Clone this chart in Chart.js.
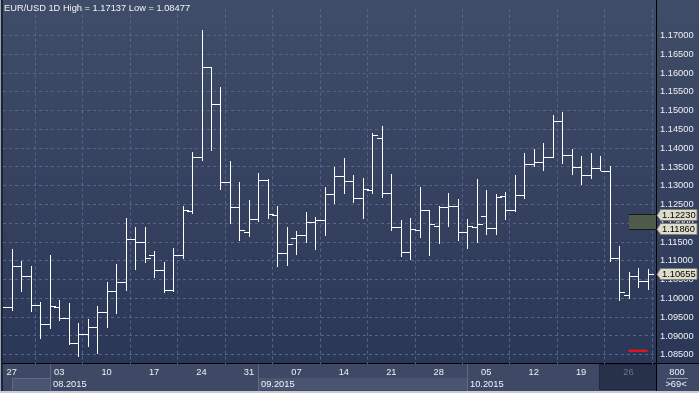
<!DOCTYPE html>
<html><head><meta charset="utf-8">
<script src="https://cdn.jsdelivr.net/npm/chart.js@4/dist/chart.umd.min.js"></script>
<style>html,body{margin:0;padding:0;background:#c8ccd4;overflow:hidden}#wrap{width:699px;height:393px;position:relative}</style>
</head><body><div id="wrap"><canvas id="c" width="699" height="393"></canvas></div>
<script>
// ---- data ----
const dates = ['2015-07-24',
 '2015-07-27','2015-07-28','2015-07-29','2015-07-30','2015-07-31',
 '2015-08-03','2015-08-04','2015-08-05','2015-08-06','2015-08-07',
 '2015-08-10','2015-08-11','2015-08-12','2015-08-13','2015-08-14',
 '2015-08-17','2015-08-18','2015-08-19','2015-08-20','2015-08-21',
 '2015-08-24','2015-08-25','2015-08-26','2015-08-27','2015-08-28',
 '2015-08-31','2015-09-01','2015-09-02','2015-09-03','2015-09-04',
 '2015-09-07','2015-09-08','2015-09-09','2015-09-10','2015-09-11',
 '2015-09-14','2015-09-15','2015-09-16','2015-09-17','2015-09-18',
 '2015-09-21','2015-09-22','2015-09-23','2015-09-24','2015-09-25',
 '2015-09-28','2015-09-29','2015-09-30','2015-10-01','2015-10-02',
 '2015-10-05','2015-10-06','2015-10-07','2015-10-08','2015-10-09',
 '2015-10-12','2015-10-13','2015-10-14','2015-10-15','2015-10-16',
 '2015-10-19','2015-10-20','2015-10-21','2015-10-22','2015-10-23',
 '2015-10-26','2015-10-27','2015-10-28'];
const openV = [1.09800,
 1.09760,1.10871,1.10591,1.09823,1.09326,
 1.09771,1.09483,1.08802,1.09064,1.09247,
 1.09648,1.10190,1.10426,1.11578,1.11508,
 1.11159,1.10769,1.10232,1.11159,1.12338,
 1.13752,1.16162,1.15167,1.13097,1.12443,
 1.11762,1.12102,1.13150,1.12233,1.11212,
 1.11604,1.11683,1.12024,1.12076,1.12791,
 1.13262,1.13124,1.12678,1.12888,1.14276,
 1.12809,1.11893,1.11238,1.11822,1.12346,
 1.11919,1.12443,1.12469,1.11762,1.11893,
 1.12181,1.11866,1.12731,1.12364,1.12757,
 1.13569,1.13621,1.13778,1.14721,1.13805,
 1.13490,1.13281,1.13464,1.13385,1.11088,
 1.10085,1.10591,1.10452];
const highV = [1.09900,
 1.11306,1.11002,1.10853,1.09910,1.11159,
 1.09962,1.09884,1.09352,1.09457,1.09797,
 1.10434,1.10905,1.12136,1.11900,1.11900,
 1.11272,1.10958,1.11350,1.12450,1.13891,
 1.17137,1.16162,1.15620,1.13655,1.13105,
 1.12626,1.13341,1.13184,1.12450,1.11900,
 1.11796,1.12293,1.12162,1.12974,1.13498,
 1.13734,1.13289,1.13210,1.14415,1.14598,
 1.13323,1.12084,1.12136,1.12974,1.12346,
 1.12469,1.12817,1.12634,1.12110,1.13184,
 1.12896,1.12791,1.12843,1.13289,1.13883,
 1.13970,1.14127,1.14886,1.14965,1.13970,
 1.13794,1.13883,1.13794,1.13524,1.11403,
 1.10696,1.10800,1.10774];
const lowV = [1.09550,
 1.09700,1.10198,1.09656,1.08933,1.09210,
 1.09430,1.08784,1.08477,1.08731,1.08556,
 1.09237,1.09603,1.10232,1.10782,1.10965,
 1.10572,1.10180,1.10198,1.11070,1.12275,
 1.13689,1.13951,1.12904,1.12013,1.11542,
 1.11673,1.12065,1.12144,1.10853,1.10879,
 1.11193,1.11508,1.11306,1.11699,1.12537,
 1.12817,1.12555,1.12136,1.12817,1.12694,
 1.11814,1.11133,1.11044,1.11646,1.11149,
 1.11463,1.11934,1.11568,1.11332,1.11500,
 1.11725,1.11725,1.12118,1.12327,1.12668,
 1.13532,1.13427,1.13778,1.13611,1.13323,
 1.13035,1.13218,1.13427,1.10992,1.09970,
 1.10022,1.10311,1.10258];
const closeV = [1.09760,
 1.10871,1.10591,1.09823,1.09326,1.09797,
 1.09483,1.08802,1.09064,1.09247,1.09648,
 1.10190,1.10426,1.11578,1.11508,1.11081,
 1.10769,1.10232,1.11159,1.12364,1.13752,
 1.16162,1.15167,1.13097,1.12443,1.11814,
 1.12102,1.13150,1.12259,1.11219,1.11447,
 1.11683,1.12024,1.12076,1.12791,1.13262,
 1.13124,1.12678,1.12914,1.14362,1.12809,
 1.11893,1.11238,1.11848,1.12346,1.11971,
 1.12443,1.12469,1.11762,1.11919,1.11971,
 1.11866,1.12705,1.12364,1.12757,1.13569,
 1.13621,1.13778,1.14721,1.13805,1.13490,
 1.13281,1.13464,1.13385,1.11088,1.10164,
 1.10591,1.10452,1.10655];
const yTicks = [1.085,1.090,1.095,1.100,1.105,1.110,1.115,1.120,1.125,1.130,1.135,1.140,1.145,1.150,1.155,1.160,1.165,1.170];
const xTickIdx = [1,6,11,16,21,26,31,36,41,46,51,56,61,66];
const xTickLabels = ['27','03','10','17','24','31','07','14','21','28','05','12','19','26'];
const monthDividers = [5,27,49];
const monthLabels = ['08.2015','09.2015','10.2015'];
const titleText = 'EUR/USD 1D High = 1.17137 Low = 1.08477';
const priceTags = [1.12230, 1.11860, 1.10655];
const bandLevels = [1.11860, 1.12230];
const bandFromIdx = 66;
const redLevel = 1.0861;
const redFromIdx = 66, redToIdx = 68;
const futureFromIdx = 62.84;
const cornerTop = '800', cornerBottom = '>69<';

const FONT = 'Liberation Sans, Arial, sans-serif';
const FS = 9.3;

const plug = {
  id: 'ohlcPlug',
  beforeDraw(chart) {
    const {ctx, chartArea: a, scales: {x}} = chart;
    const W = chart.width, H = chart.height;
    ctx.save();
    const g = ctx.createLinearGradient(0, 0, 0, a.bottom);
    g.addColorStop(0, '#404d68');
    g.addColorStop(1, '#2b3757');
    ctx.fillStyle = g; ctx.fillRect(0, 0, W, a.bottom);
    // bottom strip
    ctx.fillStyle = '#3e4a65'; ctx.fillRect(0, a.bottom, W, H - a.bottom);
    // alternating month boxes (lower row)
    const xs = [x.getPixelForValue(1)].concat(monthDividers.map(v => Math.round(x.getPixelForValue(v))));
    ctx.fillStyle = '#4a5671';
    [[Math.round(xs[0]), xs[1]], [xs[2], xs[3]]].forEach(([l, r]) => ctx.fillRect(l, 378, r - l, 12));
    ctx.strokeStyle = '#5e6a84'; ctx.lineWidth = 1;
    ctx.beginPath(); ctx.moveTo(Math.round(xs[0]) + 0.5, 378); ctx.lineTo(Math.round(xs[0]) + 0.5, 390); ctx.moveTo(Math.round(xs[0]), 378.5); ctx.lineTo(xs[1], 378.5); ctx.stroke();
    xs.slice(1).forEach(p => { ctx.beginPath(); ctx.moveTo(p + 0.5, a.bottom); ctx.lineTo(p + 0.5, 391); ctx.stroke(); });
    // dark future region
    const fx = Math.round(x.getPixelForValue(futureFromIdx));
    ctx.fillStyle = '#27314a'; ctx.fillRect(fx, a.bottom + 1, a.right - fx, 390 - a.bottom - 1);
    ctx.strokeStyle = '#1f283c'; ctx.strokeRect(fx + 0.5, a.bottom + 0.5, a.right - fx - 1, 390 - a.bottom - 1);
    // frame lines
    ctx.fillStyle = '#000';
    ctx.fillRect(0, a.bottom - 1, W, 1);
    ctx.fillRect(a.right - 1, 0, 1, 391);
    ctx.fillStyle = '#c9cdd5'; ctx.fillRect(0, 391, W, 2);
    ctx.fillStyle = '#9aa3b5'; ctx.fillRect(0, 0, 1, 391);
    ctx.fillStyle = '#1d2434'; ctx.fillRect(1, 0, 2, 391);
    ctx.restore();
  },
  beforeDatasetsDraw(chart) {
    const {ctx, chartArea: a, scales: {x, y}} = chart;
    const l = Math.round(x.getPixelForValue(bandFromIdx));
    const t = Math.round(y.getPixelForValue(bandLevels[1]));
    const b = Math.round(y.getPixelForValue(bandLevels[0]));
    ctx.save();
    ctx.fillStyle = '#4f5a4d'; ctx.fillRect(l, t, a.right - 1 - l, b - t);
    ctx.fillStyle = '#161b16'; ctx.fillRect(l, t - 1, a.right - 1 - l, 1); ctx.fillRect(l, b, a.right - 1 - l, 1);
    ctx.restore();
  },
  afterDatasetsDraw(chart) {
    const {ctx, chartArea: a, scales: {x, y}} = chart;
    ctx.save();
    ctx.beginPath(); ctx.rect(a.left, a.top, a.right - a.left - 1, a.bottom - a.top - 1); ctx.clip();
    ctx.fillStyle = '#ffffff';
    const half = 5;
    for (let i = 0; i < dates.length; i++) {
      const px = Math.round(x.getPixelForValue(i));
      const yh = Math.round(y.getPixelForValue(highV[i]));
      const yl = Math.round(y.getPixelForValue(lowV[i]));
      const yo = Math.round(y.getPixelForValue(openV[i]));
      const yc = Math.round(y.getPixelForValue(closeV[i]));
      ctx.fillRect(px, yh, 1, yl - yh + 1);
      ctx.fillRect(px - half, yo, half, 1);
      ctx.fillRect(px + 1, yc, half, 1);
    }
    ctx.restore();
  },
  afterDraw(chart) {
    const {ctx, chartArea: a, scales: {x, y}} = chart;
    ctx.save();
    ctx.font = FS + 'px ' + FONT;
    ctx.textBaseline = 'middle';
    ctx.fillStyle = '#f2f4f8';
    ctx.textAlign = 'left';
    ctx.fillText(titleText, 4, 8.5);
    // month labels
    monthDividers.forEach((v, i) => {
      ctx.fillText(monthLabels[i], Math.round(x.getPixelForValue(v)) + 3, 384);
    });
    // corner box
    ctx.textAlign = 'center';
    ctx.fillText(cornerTop, 677, 372.5);
    ctx.fillText(cornerBottom, 676, 384.5);
    ctx.fillStyle = '#8c96aa'; ctx.fillRect(667, 378, 21, 1);
    // price tags
    priceTags.forEach(v => {
      const py = Math.round(y.getPixelForValue(v));
      const l = a.right + 3, r = a.right + 40;
      ctx.beginPath();
      ctx.moveTo(a.right, py + 0.5);
      ctx.lineTo(l, py - 4.5);
      ctx.lineTo(l, py - 5.5);
      ctx.lineTo(r, py - 5.5);
      ctx.lineTo(r, py + 5.5);
      ctx.lineTo(l, py + 5.5);
      ctx.lineTo(l, py + 4.5);
      ctx.closePath();
      ctx.fillStyle = '#dedccb'; ctx.fill();
      ctx.strokeStyle = '#7d7f78'; ctx.lineWidth = 1; ctx.stroke();
      ctx.fillStyle = '#000'; ctx.textAlign = 'left';
      ctx.fillText(v.toFixed(5), l + 2, py + 0.5);
    });
    ctx.restore();
  }
};

new Chart(document.getElementById('c'), {
  type: 'bar',
  data: {
    datasets: [
      { type: 'bar', label: 'EUR/USD', data: dates.map((d, i) => ({x: i, y: [lowV[i], highV[i]]})),
        backgroundColor: 'rgba(0,0,0,0)', borderWidth: 0, barThickness: 1 },
      { type: 'line', label: 'level', data: [{x: redFromIdx, y: redLevel}, {x: redToIdx, y: redLevel}],
        borderColor: '#ff1010', borderWidth: 2, pointRadius: 0, borderCapStyle: 'butt' }
    ]
  },
  options: {
    responsive: false, animation: false, events: [],
    layout: {padding: {left: 3, top: 3, right: 0, bottom: 0}},
    plugins: {legend: {display: false}, tooltip: {enabled: false}},
    scales: {
      x: {
        type: 'linear', position: 'bottom', min: 0.08, max: 69.0, offset: false,
        afterBuildTicks: s => { s.ticks = xTickIdx.map(v => ({value: v})); },
        afterFit: s => { s.height = 29; },
        grid: {color: '#56658a', lineWidth: 1, drawTicks: false},
        border: {display: false, dash: [3, 3]},
        ticks: {autoSkip: false, maxRotation: 0, padding: 3,
          font: {family: FONT, size: FS},
          color: c => c.index === 13 ? '#6c7893' : '#eef0f4',
          callback: (v, i) => xTickLabels[i]}
      },
      y: {
        type: 'linear', position: 'right', min: 1.08254, max: 1.17716,
        afterBuildTicks: s => { s.ticks = yTicks.map(v => ({value: v})); },
        afterFit: s => { s.width = 42; },
        grid: {color: '#56658a', lineWidth: 1, drawTicks: false},
        border: {display: false, dash: [3, 3]},
        ticks: {autoSkip: false, padding: 3, crossAlign: 'near',
          font: {family: FONT, size: FS}, color: '#eef0f4',
          callback: v => v.toFixed(5)}
      }
    }
  },
  plugins: [plug]
});
</script></body></html>
